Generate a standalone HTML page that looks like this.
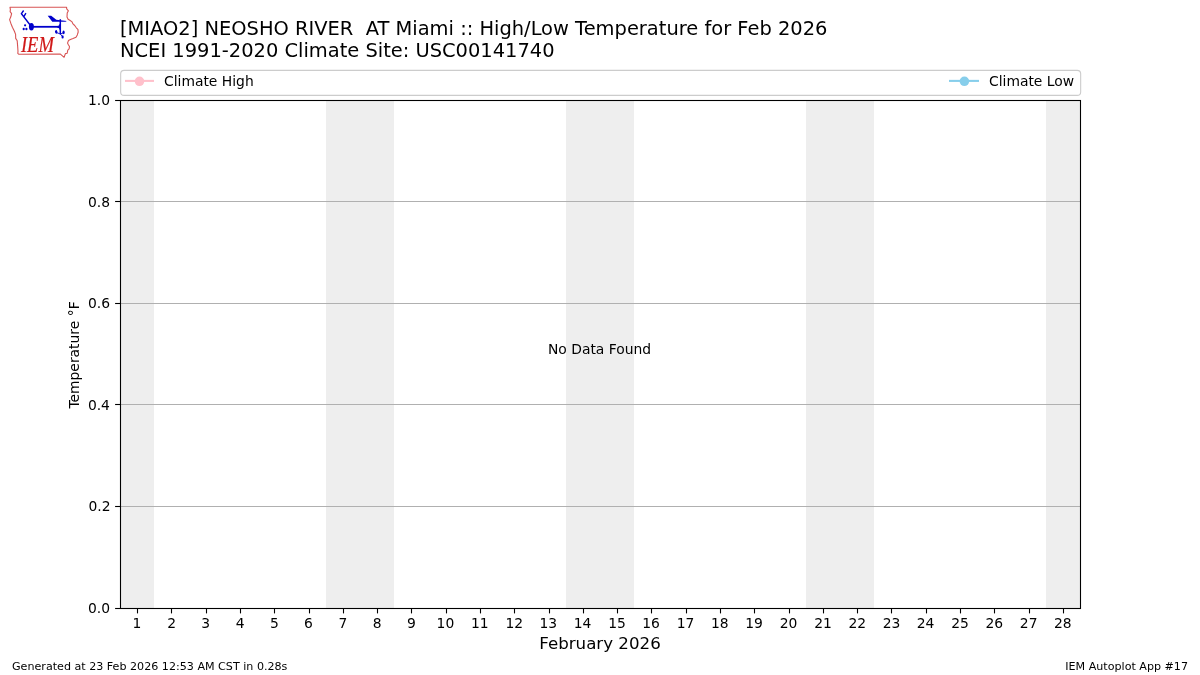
<!DOCTYPE html><html><head><meta charset="utf-8"><title>IEM Autoplot</title><style>
html,body{margin:0;padding:0;background:#fff;}body{width:1200px;height:675px;overflow:hidden;}
svg{display:block;} text{font-family:"DejaVu Sans","Liberation Sans",sans-serif;fill:#000;}
</style></head><body>
<svg width="1200" height="675" viewBox="0 0 1200 675">
<rect x="0" y="0" width="1200" height="675" fill="#fff"/>
<rect x="120" y="100" width="34" height="508" fill="#eeeeee"/>
<rect x="326" y="100" width="68" height="508" fill="#eeeeee"/>
<rect x="566" y="100" width="68" height="508" fill="#eeeeee"/>
<rect x="806" y="100" width="68" height="508" fill="#eeeeee"/>
<rect x="1046" y="100" width="34" height="508" fill="#eeeeee"/>
<line x1="120" y1="201.5" x2="1081" y2="201.5" stroke="#b0b0b0" stroke-width="1.1"/>
<line x1="120" y1="303.5" x2="1081" y2="303.5" stroke="#b0b0b0" stroke-width="1.1"/>
<line x1="120" y1="404.5" x2="1081" y2="404.5" stroke="#b0b0b0" stroke-width="1.1"/>
<line x1="120" y1="506.5" x2="1081" y2="506.5" stroke="#b0b0b0" stroke-width="1.1"/>
<rect x="120.5" y="100.5" width="960" height="508" fill="none" stroke="#000" stroke-width="1.1"/>
<line x1="115.1" y1="100.5" x2="120.5" y2="100.5" stroke="#000" stroke-width="1.1"/>
<text x="88.03" y="105" font-size="13.889">1.0</text>
<line x1="115.1" y1="201.5" x2="120.5" y2="201.5" stroke="#000" stroke-width="1.1"/>
<text x="88.06" y="207" font-size="13.889">0.8</text>
<line x1="115.1" y1="303.5" x2="120.5" y2="303.5" stroke="#000" stroke-width="1.1"/>
<text x="87.99" y="308" font-size="13.889">0.6</text>
<line x1="115.1" y1="404.5" x2="120.5" y2="404.5" stroke="#000" stroke-width="1.1"/>
<text x="87.89" y="410" font-size="13.889">0.4</text>
<line x1="115.1" y1="506.5" x2="120.5" y2="506.5" stroke="#000" stroke-width="1.1"/>
<text x="88.50" y="511" font-size="13.889">0.2</text>
<line x1="115.1" y1="608.5" x2="120.5" y2="608.5" stroke="#000" stroke-width="1.1"/>
<text x="88.03" y="613" font-size="13.889">0.0</text>
<line x1="137.5" y1="608.5" x2="137.5" y2="613.4" stroke="#000" stroke-width="1.1"/>
<text x="132.60" y="628" font-size="13.889">1</text>
<line x1="171.5" y1="608.5" x2="171.5" y2="613.4" stroke="#000" stroke-width="1.1"/>
<text x="167.20" y="628" font-size="13.889">2</text>
<line x1="206.5" y1="608.5" x2="206.5" y2="613.4" stroke="#000" stroke-width="1.1"/>
<text x="201.32" y="628" font-size="13.889">3</text>
<line x1="240.5" y1="608.5" x2="240.5" y2="613.4" stroke="#000" stroke-width="1.1"/>
<text x="235.63" y="628" font-size="13.889">4</text>
<line x1="274.5" y1="608.5" x2="274.5" y2="613.4" stroke="#000" stroke-width="1.1"/>
<text x="269.94" y="628" font-size="13.889">5</text>
<line x1="309.5" y1="608.5" x2="309.5" y2="613.4" stroke="#000" stroke-width="1.1"/>
<text x="304.11" y="628" font-size="13.889">6</text>
<line x1="343.5" y1="608.5" x2="343.5" y2="613.4" stroke="#000" stroke-width="1.1"/>
<text x="338.46" y="628" font-size="13.889">7</text>
<line x1="377.5" y1="608.5" x2="377.5" y2="613.4" stroke="#000" stroke-width="1.1"/>
<text x="372.73" y="628" font-size="13.889">8</text>
<line x1="411.5" y1="608.5" x2="411.5" y2="613.4" stroke="#000" stroke-width="1.1"/>
<text x="407.06" y="628" font-size="13.889">9</text>
<line x1="446.5" y1="608.5" x2="446.5" y2="613.4" stroke="#000" stroke-width="1.1"/>
<text x="436.58" y="628" font-size="13.889">10</text>
<line x1="480.5" y1="608.5" x2="480.5" y2="613.4" stroke="#000" stroke-width="1.1"/>
<text x="471.04" y="628" font-size="13.889">11</text>
<line x1="514.5" y1="608.5" x2="514.5" y2="613.4" stroke="#000" stroke-width="1.1"/>
<text x="505.38" y="628" font-size="13.889">12</text>
<line x1="549.5" y1="608.5" x2="549.5" y2="613.4" stroke="#000" stroke-width="1.1"/>
<text x="539.53" y="628" font-size="13.889">13</text>
<line x1="583.5" y1="608.5" x2="583.5" y2="613.4" stroke="#000" stroke-width="1.1"/>
<text x="573.65" y="628" font-size="13.889">14</text>
<line x1="617.5" y1="608.5" x2="617.5" y2="613.4" stroke="#000" stroke-width="1.1"/>
<text x="608.15" y="628" font-size="13.889">15</text>
<line x1="651.5" y1="608.5" x2="651.5" y2="613.4" stroke="#000" stroke-width="1.1"/>
<text x="642.27" y="628" font-size="13.889">16</text>
<line x1="686.5" y1="608.5" x2="686.5" y2="613.4" stroke="#000" stroke-width="1.1"/>
<text x="676.71" y="628" font-size="13.889">17</text>
<line x1="720.5" y1="608.5" x2="720.5" y2="613.4" stroke="#000" stroke-width="1.1"/>
<text x="710.88" y="628" font-size="13.889">18</text>
<line x1="754.5" y1="608.5" x2="754.5" y2="613.4" stroke="#000" stroke-width="1.1"/>
<text x="745.17" y="628" font-size="13.889">19</text>
<line x1="789.5" y1="608.5" x2="789.5" y2="613.4" stroke="#000" stroke-width="1.1"/>
<text x="779.69" y="628" font-size="13.889">20</text>
<line x1="823.5" y1="608.5" x2="823.5" y2="613.4" stroke="#000" stroke-width="1.1"/>
<text x="814.15" y="628" font-size="13.889">21</text>
<line x1="857.5" y1="608.5" x2="857.5" y2="613.4" stroke="#000" stroke-width="1.1"/>
<text x="848.49" y="628" font-size="13.889">22</text>
<line x1="891.5" y1="608.5" x2="891.5" y2="613.4" stroke="#000" stroke-width="1.1"/>
<text x="882.64" y="628" font-size="13.889">23</text>
<line x1="926.5" y1="608.5" x2="926.5" y2="613.4" stroke="#000" stroke-width="1.1"/>
<text x="916.76" y="628" font-size="13.889">24</text>
<line x1="960.5" y1="608.5" x2="960.5" y2="613.4" stroke="#000" stroke-width="1.1"/>
<text x="951.26" y="628" font-size="13.889">25</text>
<line x1="994.5" y1="608.5" x2="994.5" y2="613.4" stroke="#000" stroke-width="1.1"/>
<text x="985.38" y="628" font-size="13.889">26</text>
<line x1="1029.5" y1="608.5" x2="1029.5" y2="613.4" stroke="#000" stroke-width="1.1"/>
<text x="1019.82" y="628" font-size="13.889">27</text>
<line x1="1063.5" y1="608.5" x2="1063.5" y2="613.4" stroke="#000" stroke-width="1.1"/>
<text x="1053.99" y="628" font-size="13.889">28</text>
<text x="600" y="648.5" font-size="16.667" text-anchor="middle">February 2026</text>
<text transform="translate(79.3,355) rotate(-90)" x="0" y="0" font-size="13.889" text-anchor="middle">Temperature °F</text>
<text x="599.55" y="353.8" font-size="13.889" text-anchor="middle">No Data Found</text>
<text x="120" y="35" font-size="19.444" xml:space="preserve">[MIAO2] NEOSHO RIVER  AT Miami :: High/Low Temperature for Feb 2026</text>
<text x="120" y="56.7" font-size="19.444">NCEI 1991-2020 Climate Site: USC00141740</text>
<rect x="120.67" y="70.36" width="960" height="25.06" rx="3.5" ry="3.5" fill="#fff" fill-opacity="0.8" stroke="#cccccc" stroke-width="1.1"/>
<line x1="125" y1="80.9" x2="154" y2="80.9" stroke="#ffc0cb" stroke-width="2.08"/>
<circle cx="139.5" cy="81.3" r="4.8" fill="#ffc0cb"/>
<text x="164" y="85.6" font-size="13.889">Climate High</text>
<line x1="949" y1="80.9" x2="979" y2="80.9" stroke="#87ceeb" stroke-width="2.08"/>
<circle cx="964.4" cy="81.3" r="4.8" fill="#87ceeb"/>
<text x="989" y="85.6" font-size="13.889">Climate Low</text>
<text x="12" y="669.75" font-size="11.111">Generated at 23 Feb 2026 12:53 AM CST in 0.28s</text>
<text x="1188" y="669.75" font-size="11.111" text-anchor="end">IEM Autoplot App #17</text>
<g id="logo">
<path d="M10 7.3 L66.6 7.3 L66.7 8.9 L68.4 10.8 L67.2 13.1 L67.0 17 L68.1 19.3 L69.8 20.3 L72.1 21.9 L73 23.9 L74.7 25.5 L76.3 27.8 L77.9 29.4 L78.2 32 L77.3 34.9 L76 37.2 L73 38.5 L70.4 39.5 L68.5 40.5 L67.5 43.1 L68.5 45 L69.5 46.5 L69.1 48.9 L67.8 50.1 L67.2 53.2 L65.4 53.6 L64.1 57.3 L60.4 54.1 L18.6 54.2 L17.8 53.4 L18 51.2 L17.6 45.6 L17.2 40.8 L15.7 38.4 L15.6 34.4 L14.4 31.2 L12.4 27.2 L10.8 23.2 L9.6 19.6 L10.8 16.8 L11.6 13.6 L10.1 11.6 L10.4 9.6 Z" fill="none" stroke="#d85454" stroke-width="1.1" stroke-linejoin="round"/>
<g fill="#0000cc" stroke="#0000cc">
<path d="M31.3 26.5 L21.4 13.7 L23.6 10.5 M24 16.3 L25.9 13.2" fill="none" stroke-width="1.4"/>
<ellipse cx="31.4" cy="26.7" rx="2.5" ry="3.7" stroke="none"/>
<path d="M32 26.8 L60 26.8" fill="none" stroke-width="1.8"/><path d="M60.3 19.2 L60.3 34.2" fill="none" stroke-width="1.5"/><path d="M57.4 25.95 Q59.6 25.9 59.6 23.9 L60.6 23.9 L60.6 29.8 L59.6 29.8 Q59.6 27.7 57.4 27.65 Z" stroke="none"/>
<path d="M47.7 15.7 L51.2 15.7 L56.3 19.8 L66.8 20.9 L65.5 21.7 L52.3 21.7 Z" stroke="none"/>
<path d="M56.5 32.5 L60.3 34 L63.4 32.8 M60.3 34 L62.4 36.5" fill="none" stroke-width="0.9"/>
<ellipse cx="25.1" cy="25.3" rx="1.1" ry="1.1" stroke="none"/>
<ellipse cx="23.7" cy="29" rx="1.1" ry="1.3" stroke="none"/>
<ellipse cx="26.4" cy="29" rx="1.1" ry="1.3" stroke="none"/>
<ellipse cx="56.2" cy="31.9" rx="1.2" ry="1.8" transform="rotate(-15 56.2 31.9)" stroke="none"/>
<ellipse cx="63.6" cy="32.4" rx="1.1" ry="1.8" stroke="none"/>
<ellipse cx="62.6" cy="36.9" rx="1.1" ry="1.6" stroke="none"/>
</g>
<text x="20.9" y="51.6" style="font-family:'Liberation Serif',serif;font-style:italic;fill:#d01818;stroke:#d01818;stroke-width:0.2" font-size="22.5" textLength="33" lengthAdjust="spacingAndGlyphs">IEM</text>
</g>

</svg></body></html>
